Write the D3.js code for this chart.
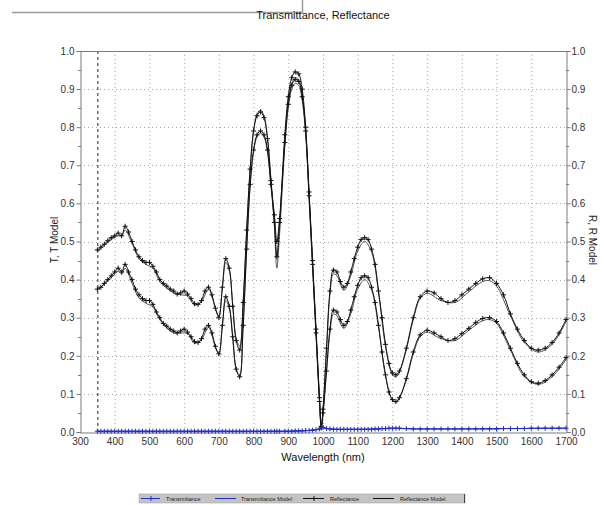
<!DOCTYPE html>
<html><head><meta charset="utf-8">
<script src="https://cdn.jsdelivr.net/npm/d3@7"></script>
<style>body{margin:0;background:#fff;}svg{display:block;font-family:"Liberation Sans",Arial,sans-serif;}</style>
</head><body><div id="chart"></div>
<script>
// wavelengths of measured points (nm)
const wl = [350,360,370,380,390,400,410,420,430,440,450,460,470,480,490,500,510,520,530,540,550,560,570,580,590,600,610,620,630,640,650,660,670,680,690,700,710,720,730,740,750,760,770,780,790,800,810,820,830,840,850,860,867,875,890,900,910,920,930,940,950,960,970,980,990,995,1000,1010,1020,1030,1040,1050,1060,1070,1080,1090,1100,1110,1120,1130,1140,1150,1160,1170,1180,1190,1200,1210,1220,1240,1260,1280,1300,1320,1340,1360,1380,1400,1420,1440,1460,1480,1500,1520,1540,1560,1580,1600,1620,1640,1660,1680,1700];
// Reflectance (upper measured curve)
const reflUpper = [0.478,0.485,0.493,0.502,0.51,0.515,0.522,0.515,0.54,0.525,0.5,0.478,0.46,0.45,0.445,0.445,0.435,0.42,0.4,0.39,0.383,0.375,0.37,0.362,0.365,0.37,0.362,0.35,0.337,0.335,0.345,0.37,0.38,0.36,0.325,0.3,0.38,0.455,0.43,0.33,0.24,0.215,0.34,0.53,0.69,0.79,0.83,0.84,0.825,0.77,0.66,0.55,0.46,0.55,0.78,0.88,0.93,0.945,0.94,0.9,0.8,0.63,0.45,0.27,0.09,0.015,0.06,0.22,0.37,0.425,0.42,0.395,0.38,0.39,0.42,0.455,0.485,0.505,0.51,0.505,0.48,0.44,0.37,0.3,0.23,0.18,0.155,0.15,0.16,0.22,0.3,0.355,0.37,0.365,0.35,0.34,0.345,0.36,0.375,0.39,0.402,0.405,0.39,0.36,0.31,0.27,0.24,0.22,0.215,0.22,0.235,0.26,0.295];
// Reflectance (lower measured curve)
const reflLower = [0.375,0.38,0.39,0.4,0.41,0.42,0.43,0.42,0.44,0.42,0.4,0.375,0.36,0.35,0.345,0.345,0.335,0.315,0.3,0.285,0.278,0.27,0.265,0.26,0.265,0.27,0.262,0.25,0.237,0.235,0.245,0.27,0.28,0.26,0.225,0.205,0.28,0.355,0.33,0.25,0.165,0.145,0.28,0.48,0.65,0.74,0.78,0.79,0.78,0.74,0.65,0.57,0.5,0.56,0.76,0.86,0.91,0.925,0.92,0.88,0.79,0.62,0.44,0.26,0.08,0.012,0.05,0.16,0.27,0.32,0.315,0.295,0.28,0.29,0.32,0.355,0.385,0.405,0.41,0.405,0.38,0.34,0.28,0.21,0.15,0.105,0.085,0.08,0.09,0.14,0.21,0.255,0.267,0.26,0.25,0.24,0.245,0.258,0.272,0.287,0.298,0.3,0.29,0.26,0.22,0.18,0.15,0.132,0.128,0.135,0.15,0.17,0.195];
// Transmittance (measured)
const trans = [0.002,0.002,0.002,0.002,0.002,0.002,0.002,0.002,0.002,0.002,0.002,0.002,0.002,0.002,0.002,0.002,0.002,0.002,0.002,0.002,0.002,0.002,0.002,0.002,0.002,0.002,0.002,0.002,0.002,0.002,0.002,0.002,0.002,0.002,0.002,0.002,0.002,0.002,0.002,0.002,0.002,0.002,0.002,0.002,0.002,0.002,0.002,0.002,0.002,0.002,0.002,0.002,0.002,0.002,0.002,0.002,0.002,0.003,0.003,0.003,0.004,0.004,0.005,0.006,0.008,0.01,0.012,0.009,0.008,0.007,0.007,0.007,0.007,0.007,0.007,0.007,0.007,0.007,0.007,0.007,0.007,0.008,0.008,0.009,0.009,0.01,0.01,0.01,0.01,0.009,0.008,0.008,0.008,0.008,0.008,0.008,0.008,0.008,0.008,0.008,0.008,0.008,0.008,0.009,0.009,0.009,0.009,0.01,0.01,0.01,0.01,0.01,0.01];
// model curves
const modelWl = [350,370,390,410,420,430,450,470,490,510,530,550,570,590,610,630,650,670,690,700,710,720,730,740,750,760,770,780,790,800,810,820,830,840,850,860,867,875,890,900,910,920,930,940,950,960,970,980,990,995,1000,1010,1020,1030,1040,1060,1080,1100,1120,1140,1160,1180,1200,1210,1220,1240,1260,1280,1300,1340,1380,1420,1460,1480,1500,1540,1580,1620,1660,1700];
const reflUpperModel = [0.472,0.49,0.505,0.515,0.515,0.53,0.495,0.455,0.44,0.43,0.395,0.378,0.365,0.36,0.357,0.333,0.342,0.375,0.325,0.305,0.375,0.445,0.425,0.335,0.245,0.225,0.34,0.525,0.685,0.79,0.835,0.845,0.83,0.775,0.665,0.54,0.43,0.52,0.76,0.87,0.915,0.93,0.925,0.885,0.79,0.62,0.44,0.26,0.085,0.012,0.055,0.21,0.36,0.415,0.41,0.372,0.41,0.475,0.5,0.472,0.365,0.225,0.15,0.145,0.157,0.215,0.295,0.35,0.364,0.345,0.34,0.368,0.395,0.397,0.383,0.305,0.235,0.21,0.23,0.29];
const reflLowerModel = [0.372,0.388,0.405,0.422,0.415,0.43,0.39,0.352,0.338,0.328,0.295,0.273,0.26,0.26,0.258,0.233,0.242,0.275,0.222,0.205,0.275,0.345,0.325,0.245,0.165,0.15,0.28,0.475,0.64,0.735,0.775,0.785,0.775,0.735,0.645,0.55,0.46,0.54,0.75,0.85,0.9,0.915,0.91,0.87,0.78,0.61,0.43,0.25,0.075,0.01,0.045,0.155,0.26,0.31,0.305,0.272,0.31,0.375,0.4,0.372,0.275,0.148,0.083,0.078,0.088,0.137,0.205,0.25,0.262,0.245,0.24,0.267,0.292,0.295,0.285,0.215,0.145,0.125,0.145,0.19];
const transModelWl = [350,900,960,990,1000,1020,1100,1200,1300,1500,1700];
const transModel = [0.001,0.002,0.004,0.008,0.011,0.008,0.007,0.009,0.008,0.009,0.01];
// axes
const xTicks = [300,400,500,600,700,800,900,1000,1100,1200,1300,1400,1500,1600,1700];
const yTicks = [0,0.1,0.2,0.3,0.4,0.5,0.6,0.7,0.8,0.9,1.0];
const legendItems = ["Transmittance","Transmittance Model","Reflectance","Reflectance Model"];
const title = "Transmittance, Reflectance";

const W = 605, H = 505;
const svg = d3.select("#chart").append("svg").attr("width", W).attr("height", H);
const x = d3.scaleLinear().domain([300,1700]).range([80,566]);
const y = d3.scaleLinear().domain([0,1]).range([432,51]);
const yR = d3.scaleLinear().domain([0,1]).range([432,51]);

// top-left cut-off window artifact
svg.append("path").attr("d","M12,12.5H302.5V0").attr("fill","none").attr("stroke","#9a9a9a").attr("stroke-width",1.5);

svg.append("text").attr("x",323).attr("y",19).attr("text-anchor","middle").attr("font-size",11).attr("fill","#111").text(title);

// grid
const g = svg.append("g");
g.selectAll(".vg").data(xTicks.slice(1,-1)).join("line")
  .attr("x1",d=>x(d)+0.5).attr("x2",d=>x(d)+0.5).attr("y1",y(1)).attr("y2",y(0))
  .attr("stroke","#a8a8a8").attr("stroke-dasharray","1,3");
g.selectAll(".hg").data(yTicks.slice(1,-1)).join("line")
  .attr("x1",x(300)).attr("x2",x(1700)).attr("y1",d=>Math.round(y(d))+0.5).attr("y2",d=>Math.round(y(d))+0.5)
  .attr("stroke","#a8a8a8").attr("stroke-dasharray","1,3");
// dashed vertical at start of measurement
g.append("line").attr("x1",x(wl[0])+0.5).attr("x2",x(wl[0])+0.5).attr("y1",y(1)).attr("y2",y(0))
  .attr("stroke","#222").attr("stroke-dasharray","3,3");

// axes
const axStyle = sel => { sel.select(".domain").attr("stroke","#7a7a7a"); sel.selectAll(".tick line").attr("stroke","#7a7a7a"); sel.selectAll("text").attr("fill","#333").attr("font-size",10).attr("font-family","'Liberation Sans',Arial,sans-serif"); };
const fmt = d3.format(".1f");
svg.append("g").attr("transform","translate(0,432.5)")
  .call(d3.axisBottom(x).tickValues(xTicks).tickFormat(d3.format("d")).tickSize(0).tickPadding(5)).call(axStyle);
svg.append("g").attr("transform","translate(80.5,0)")
  .call(d3.axisLeft(y).tickValues(yTicks).tickFormat(fmt).tickSize(4).tickPadding(2)).call(axStyle);
svg.append("g").attr("transform","translate(566.5,0)")
  .call(d3.axisRight(yR).tickValues(yTicks).tickFormat(fmt).tickSize(4).tickPadding(1)).call(axStyle);
// minor ticks
const minors = d3.range(0.05,1,0.1);
svg.selectAll(".mtl").data(minors).join("line").attr("x1",78).attr("x2",81).attr("y1",d=>Math.round(y(d))+0.5).attr("y2",d=>Math.round(y(d))+0.5).attr("stroke","#7a7a7a");
svg.selectAll(".mtr").data(minors).join("line").attr("x1",566).attr("x2",569).attr("y1",d=>Math.round(y(d))+0.5).attr("y2",d=>Math.round(y(d))+0.5).attr("stroke","#7a7a7a");
// top frame
svg.append("line").attr("x1",80).attr("x2",567).attr("y1",51.5).attr("y2",51.5).attr("stroke","#7a7a7a");

svg.append("text").attr("x",323).attr("y",461).attr("text-anchor","middle").attr("font-size",11).attr("fill","#111").text("Wavelength (nm)");
svg.append("text").attr("transform","translate(58,240) rotate(-90)").attr("text-anchor","middle").attr("font-size",10).attr("fill","#222").text("T, T Model");
svg.append("text").attr("transform","translate(589,240) rotate(90)").attr("text-anchor","middle").attr("font-size",10).attr("fill","#222").text("R, R Model");

// curves
const line = (xs, ys, sc) => d3.line().curve(d3.curveCatmullRom.alpha(0.5)).x((d,i)=>x(xs[i])).y(d=>sc(d))(ys);
const plot = svg.append("g");
function drawModel(xs, ys, color){
  plot.append("path").attr("d",line(xs,ys,y)).attr("fill","none").attr("stroke",color).attr("stroke-width",1);
}
function drawData(xs, ys, color, sc){
  plot.append("path").attr("d",line(xs,ys,sc)).attr("fill","none").attr("stroke",color).attr("stroke-width",1);
  plot.append("g").selectAll("path").data(ys).join("path")
    .attr("d",(d,i)=>{const cx=x(xs[i]), cy=sc(d); return `M${cx-2.5},${cy}H${cx+2.5}M${cx},${cy-2.5}V${cy+2.5}`;})
    .attr("stroke",color).attr("stroke-width",1);
}
drawModel(modelWl, reflUpperModel, "#555");
drawModel(modelWl, reflLowerModel, "#555");
drawData(wl, reflUpper, "#111", yR);
drawData(wl, reflLower, "#111", yR);
drawModel(transModelWl, transModel, "#2020c0");
drawData(wl, trans, "#2030d0", y);

// legend
const lg = svg.append("g");
lg.append("rect").attr("x",139).attr("y",494).attr("width",326).attr("height",9).attr("fill","#c4c4c4").attr("stroke","#9a9a9a").attr("stroke-width",0.5);
const lx = [[141,160,166,true,"#2030d0"],[215,236,241,false,"#2030d0"],[303,324,330,true,"#111"],[373,394,400,false,"#111"]];
lx.forEach((p,i)=>{
  lg.append("line").attr("x1",p[0]).attr("x2",p[1]).attr("y1",498.5).attr("y2",498.5).attr("stroke",p[4]);
  if(p[3]){ const c=(p[0]+p[1])/2; lg.append("line").attr("x1",c+0.5).attr("x2",c+0.5).attr("y1",496).attr("y2",501).attr("stroke",p[4]); }
  lg.append("text").attr("x",p[2]).attr("y",500.5).attr("font-size",5.5).attr("fill","#222").text(legendItems[i]);
});
lg.append("line").attr("x1",464.5).attr("x2",464.5).attr("y1",494).attr("y2",503).attr("stroke","#444");
</script></body></html>
